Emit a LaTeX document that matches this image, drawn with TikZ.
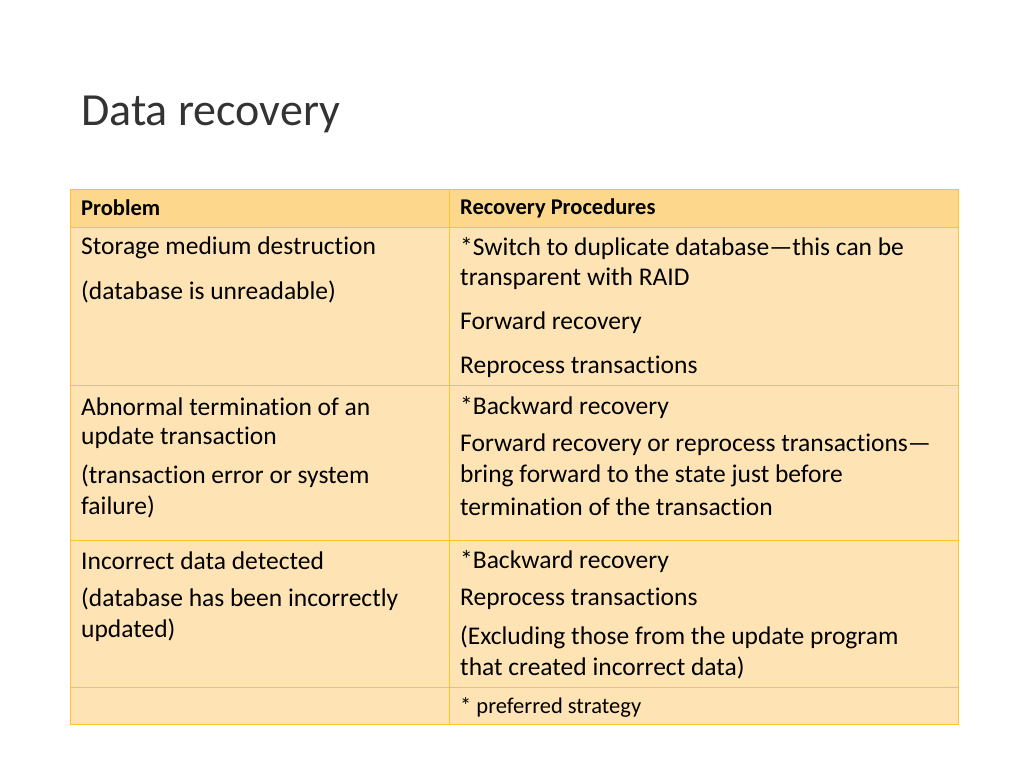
\documentclass[tikz,border=0pt]{standalone}
\usepackage{fontspec}
\setmainfont{Carlito}[RawFeature={-liga;-clig}]
\usepackage{xcolor}
\definecolor{headfill}{RGB}{253,216,140}
\definecolor{cellfill}{RGB}{254,228,180}
\definecolor{rulegold}{RGB}{255,196,40}
\tikzset{cell/.style={anchor=west,inner sep=0pt,font=\fontsize{25.5}{30}\selectfont},
         head/.style={anchor=west,inner sep=0pt,font=\fontsize{22.5}{26}\selectfont\bfseries},
         note/.style={anchor=west,inner sep=0pt,font=\fontsize{22.5}{26}\selectfont}}
\begin{document}
\begin{tikzpicture}[x=1pt,y=-1pt]
\useasboundingbox (0,0) rectangle (1024,768);
\fill[headfill] (70,189) rectangle (958,227);
\fill[cellfill] (70,227) rectangle (958,724);
\draw[rulegold,line width=0.8pt] (70,189) rectangle (958,724);
\draw[rulegold,line width=0.8pt] (449,189) -- (449,724);
\foreach \y in {227,385,540,687}
  \draw[rulegold,line width=0.8pt] (70,\y) -- (958,\y);

\node[anchor=west,inner sep=0pt,font=\fontsize{46}{52}\selectfont,text=black!80] (title) at (81,114) {Data recovery};

\node[head] (h1) at (81,208) {Problem};
\node[head] (h2) at (460,208) {Recovery Procedures};

\node[cell] (p1a) at (81,248) {Storage medium destruction};
\node[cell] (p1b) at (81,292) {(database is unreadable)};
\node[cell] (r1a) at (460,248) {*Switch to duplicate database—this can be};
\node[cell] (r1b) at (460,279) {transparent with RAID};
\node[cell] (r1c) at (460,323) {Forward recovery};
\node[cell] (r1d) at (460,367) {Reprocess transactions};

\node[cell] (p2a) at (81,407) {Abnormal termination of an};
\node[cell] (p2b) at (81,438) {update transaction};
\node[cell] (p2c) at (81,476) {(transaction error or system};
\node[cell] (p2d) at (81,507) {failure)};
\node[cell] (r2a) at (460,407) {*Backward recovery};
\node[cell] (r2b) at (460,445) {Forward recovery or reprocess transactions—};
\node[cell] (r2c) at (460,476) {bring forward to the state just before};
\node[cell] (r2d) at (460,507) {termination of the transaction};

\node[cell] (p3a) at (81,561) {Incorrect data detected};
\node[cell] (p3b) at (81,599) {(database has been incorrectly};
\node[cell] (p3c) at (81,630) {updated)};
\node[cell] (r3a) at (460,561) {*Backward recovery};
\node[cell] (r3b) at (460,599) {Reprocess transactions};
\node[cell] (r3c) at (460,637) {(Excluding those from the update program};
\node[cell] (r3d) at (460,668) {that created incorrect data)};

\node[note] (n1) at (460,707) {* preferred strategy};
\end{tikzpicture}
\end{document}
